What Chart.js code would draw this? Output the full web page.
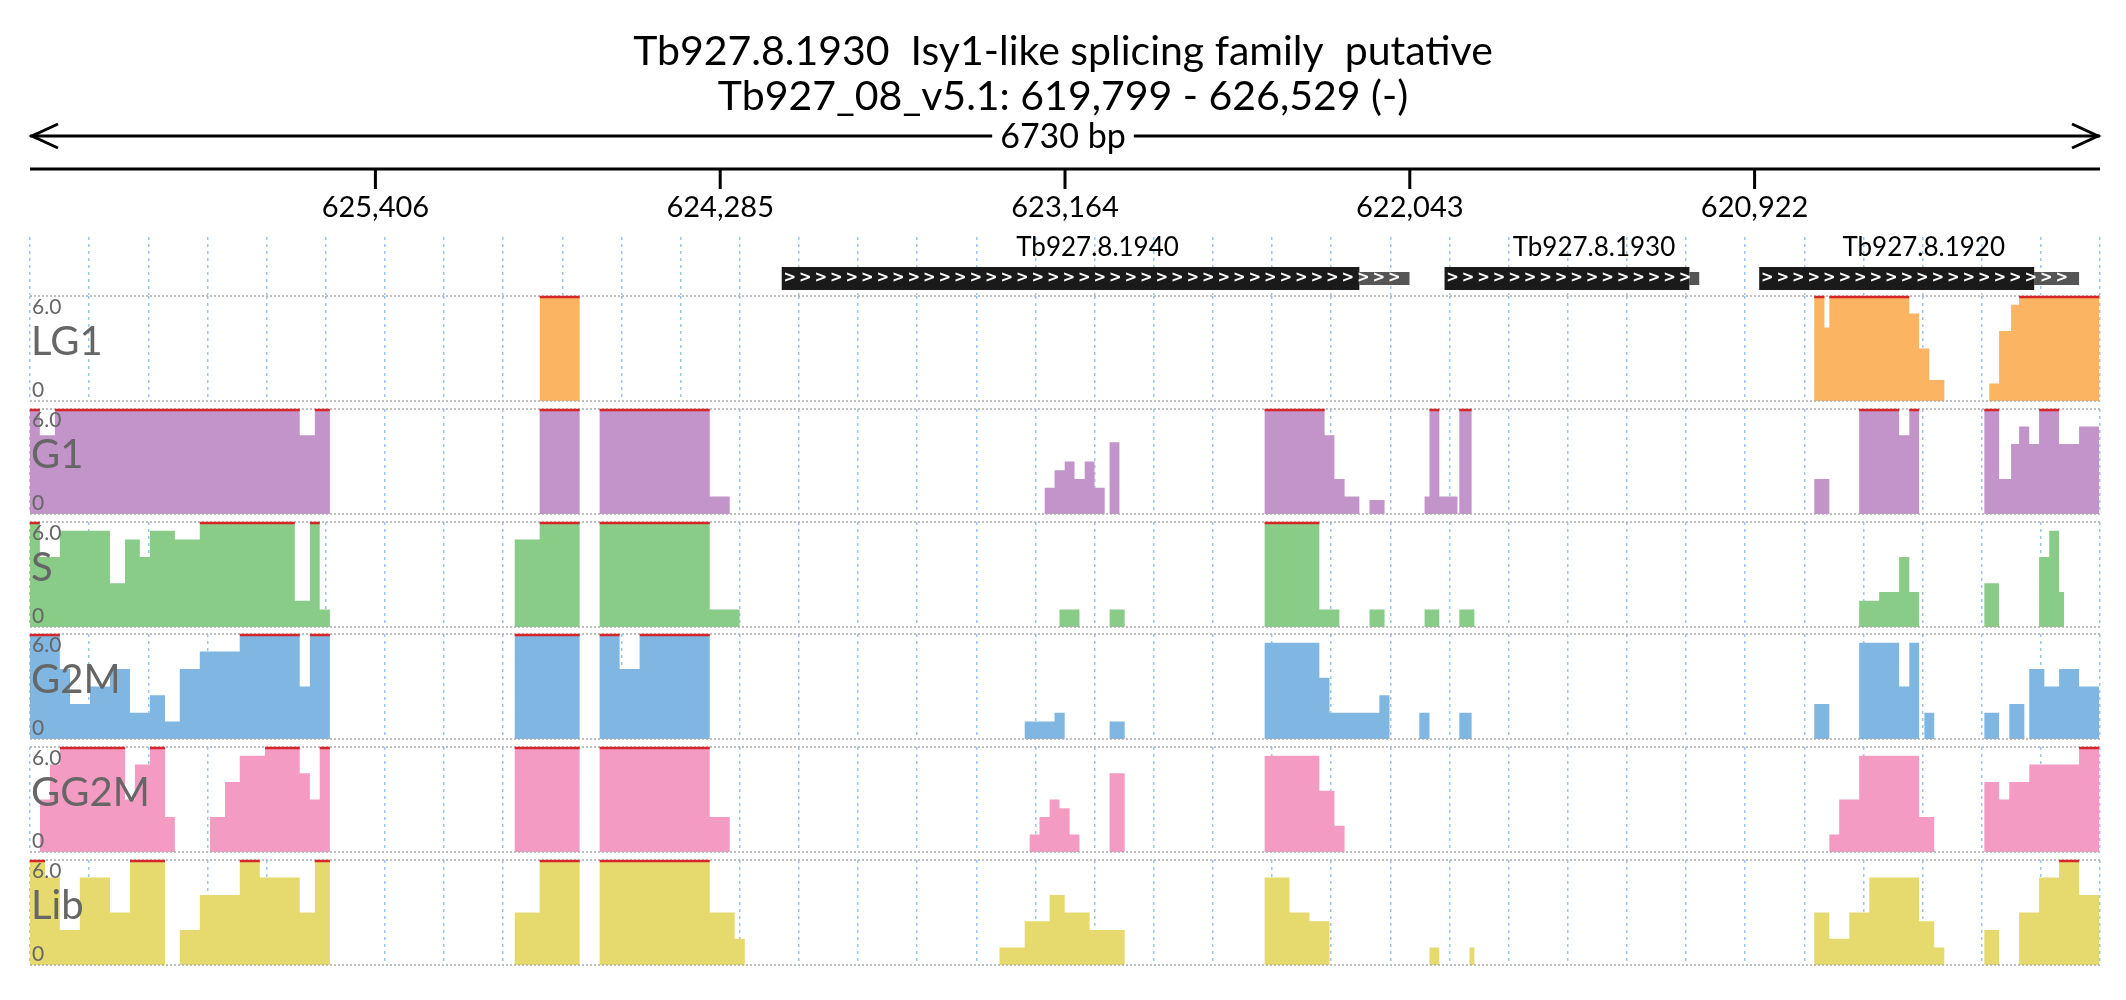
<!DOCTYPE html>
<html><head><meta charset="utf-8">
<script src="https://cdn.jsdelivr.net/npm/chart.js@4.4.1/dist/chart.umd.min.js"></script>
<style>
body{margin:0;background:#fff;width:2126px;height:1000px;position:relative;font-family:Lato,sans-serif}
canvas{position:absolute;left:0}
</style></head><body>
<canvas id="head" width="2126" height="295" style="top:0"></canvas>
<div id="tracks"></div>
<script>
// region: Tb927_08_v5.1 619,799 - 626,529 (minus strand, drawn right to left)
const regionEnd = 626529;
const regionLen = 6730;
const tickOffsets = [1123, 2244, 3365, 4486, 5607];
const gridCount = 35;

// genes: [name, start, end of coding part, end of UTR] as offsets from 626,529
const genes = [
  ['Tb927.8.1940', 2444, 4322, 4485],
  ['Tb927.8.1930', 4599, 5395, 5427],
  ['Tb927.8.1920', 5622, 6516, 6662]
];

const trackNames  = ['LG1', 'G1', 'S', 'G2M', 'GG2M', 'Lib'];
const trackColors = ['#fbb462', '#c394c9', '#88cc88', '#80b6e2', '#f49bc4', '#e6da6e'];

// coverage runs [from, to, value] (offsets in bp, values clipped at 6)
const LG1 = [[1657,1787,6],[5801,5834,6],[5834,5850,4.2],[5850,6110,6],[6110,6142,5],[6142,6175,3],[6175,6224,1.2],[6370,6402,1],[6402,6441,4],[6441,6467,5.5],[6467,6727,6]];
const G1 = [[0,32,6],[32,81,4.5],[81,877,6],[877,926,4.5],[926,975,6],[1657,1787,6],[1852,2210,6],[2210,2275,1],
  [3299,3331,1.5],[3331,3364,2.5],[3364,3396,3],[3396,3429,2],[3429,3461,3],[3461,3494,1.5],[3510,3542,4.1],
  [4014,4209,6],[4209,4241,4.5],[4241,4274,2],[4274,4322,1],[4355,4404,0.8],[4534,4550,1],[4550,4582,6],[4582,4641,1],[4647,4687,6],
  [5801,5850,2],[5947,6077,6],[6077,6110,4.5],[6110,6142,6],[6354,6402,6],[6402,6441,2],[6441,6467,4],[6467,6500,5],[6500,6532,4],[6532,6597,6],[6597,6662,4],[6662,6727,5]];
const S = [[0,32,6],[32,97,4],[97,260,5.5],[260,309,2.5],[309,357,5],[357,390,4],[390,471,5.5],[471,552,5],[552,861,6],[861,910,1.5],[910,942,6],[942,975,1],
  [1576,1657,5],[1657,1787,6],[1852,2210,6],[2210,2307,1],[3347,3412,1],[3510,3559,1],
  [4014,4192,6],[4192,4257,1],[4355,4404,1],[4534,4582,1],[4647,4696,1],
  [5947,6012,1.5],[6012,6077,2],[6077,6110,4],[6110,6142,2],[6354,6402,2.5],[6532,6565,4],[6565,6597,5.5],[6597,6614,2]];
const G2M = [[0,97,6],[97,130,4],[130,195,2],[195,260,3],[260,325,4],[325,390,1.5],[390,439,2.5],[439,487,1],[487,552,4],[552,682,5],[682,877,6],[877,910,3],[910,975,6],
  [1576,1787,6],[1852,1917,6],[1917,1982,4],[1982,2210,6],[3234,3331,1],[3331,3364,1.5],[3510,3559,1],
  [4014,4192,5.5],[4192,4225,3.5],[4225,4387,1.5],[4387,4420,2.5],[4517,4550,1.5],[4647,4687,1.5],
  [5801,5850,2],[5947,6077,5.5],[6077,6110,3],[6110,6142,5.5],[6159,6191,1.5],
  [6354,6402,1.5],[6435,6484,2],[6500,6549,4],[6549,6597,3],[6597,6662,4],[6662,6727,3]];
const GG2M = [[32,65,3],[65,97,5],[97,309,6],[309,341,3],[341,390,5],[390,439,6],[439,471,2],
  [585,634,2],[634,682,4],[682,764,5.5],[764,877,6],[877,910,4.5],[910,942,3],[942,975,6],
  [1576,1787,6],[1852,2210,6],[2210,2275,2],
  [3250,3282,1],[3282,3315,2],[3315,3347,3],[3347,3380,2.5],[3380,3412,1],[3510,3559,4.5],
  [4014,4192,5.5],[4192,4241,3.5],[4241,4274,1.5],
  [5850,5882,1],[5882,5947,3],[5947,6142,5.5],[6142,6191,2],
  [6354,6402,4],[6402,6435,3],[6435,6500,4],[6500,6662,5],[6662,6727,6]];
const Lib = [[0,49,6],[49,97,5],[97,162,2],[162,260,5],[260,325,3],[325,439,6],[487,552,2],[552,682,4],[682,747,6],[747,877,5],[877,926,3],[926,975,6],
  [1576,1657,3],[1657,1787,6],[1852,2210,6],[2210,2291,3],[2291,2324,1.5],
  [3152,3234,1],[3234,3315,2.5],[3315,3364,4],[3364,3445,3],[3445,3510,2],[3510,3559,2],
  [4014,4095,5],[4095,4160,3],[4160,4225,2.5],[4550,4582,1],[4680,4696,1],
  [5801,5850,3],[5850,5915,1.5],[5915,5980,3],[5980,6142,5],[6142,6191,2.5],[6191,6224,1],
  [6354,6402,2],[6467,6532,3],[6532,6597,5],[6597,6662,6],[6662,6727,4]];
const trackRuns = [LG1, G1, S, G2M, GG2M, Lib];

const fmt = v => (regionEnd - v).toLocaleString('en-US');
const gridTicks = () => { const t = []; for (let i = 0; i <= gridCount; i++) t.push({value: i * regionLen / gridCount}); return t; };

function toPoints(runs) {
  const pts = [];
  runs.forEach(([a, b, v]) => { pts.push({x:a,y:0},{x:a,y:v},{x:b,y:v},{x:b,y:0}); });
  return pts;
}

const gridOpts = { color: '#9cc6ec', lineWidth: 1.5, drawTicks: false, tickLength: 0 };
const borderOpts = { display: false, dash: [3, 4] };

const headPlugin = {
  id: 'head',
  afterDraw(chart) {
    const c = chart.ctx, x = chart.scales.x, L = x.left, R = x.right, cx = 1063;
    c.save();
    c.setLineDash([]);
    c.fillStyle = '#000'; c.textAlign = 'center'; c.textBaseline = 'middle';
    c.font = '41px Lato';
    c.fillText('Tb927.8.1930  Isy1-like splicing family  putative', cx, 52);
    c.fillText('Tb927_08_v5.1: 619,799 - 626,529 (-)', cx, 97);
    // span arrow
    c.strokeStyle = '#000'; c.lineWidth = 3;
    c.beginPath(); c.moveTo(L, 136); c.lineTo(R, 136); c.stroke();
    c.beginPath(); c.moveTo(L+28, 124); c.lineTo(L+2, 136); c.lineTo(L+28, 148);
    c.moveTo(R-28, 124); c.lineTo(R-2, 136); c.lineTo(R-28, 148); c.stroke();
    c.font = '34px Lato';
    const tw = c.measureText(regionLen + ' bp').width;
    c.fillStyle = '#fff'; c.fillRect(cx - tw/2 - 8, 116, tw + 16, 40);
    c.fillStyle = '#000'; c.fillText(regionLen + ' bp', cx, 137);
    // axis
    c.beginPath(); c.moveTo(L, 169); c.lineTo(R, 169); c.stroke();
    c.font = '29px Lato';
    tickOffsets.forEach(v => {
      const p = x.getPixelForValue(v);
      c.beginPath(); c.moveTo(p, 169); c.lineTo(p, 189); c.stroke();
      c.fillText(fmt(v), p, 208);
    });
    // genes
    genes.forEach(([name, s, e, u]) => {
      const a = x.getPixelForValue(s), b = x.getPixelForValue(e), d = x.getPixelForValue(u);
      c.fillStyle = '#555'; c.fillRect(b, 272, d - b, 13);
      c.fillStyle = '#1a1a1a'; c.fillRect(a, 267, b - a, 23);
      c.font = 'bold 15px DejaVu Sans'; c.fillStyle = '#fff';
      for (let p = a + 8; p < d - 5; p += 15.5) c.fillText('>', p, 278);
      c.fillStyle = '#000'; c.font = '26px Lato';
      c.fillText(name, (a + b) / 2 + 27, 248);
    });
    c.restore();
  }
};

new Chart(document.getElementById('head'), {
  type: 'line',
  data: { datasets: [] },
  options: {
    responsive: false, animation: false,
    layout: { padding: { left: 30, right: 26, top: 237, bottom: 0 } },
    plugins: { legend: { display: false }, tooltip: { enabled: false } },
    scales: {
      x: { type: 'linear', min: 0, max: regionLen, afterBuildTicks: s => { s.ticks = gridTicks(); },
           ticks: { display: false }, border: borderOpts, grid: gridOpts },
      y: { display: false }
    }
  },
  plugins: [headPlugin]
});

const trackPlugin = {
  id: 'trackLabels',
  afterDraw(chart) {
    const c = chart.ctx, a = chart.chartArea, x = chart.scales.x, y = chart.scales.y;
    const o = chart.options.plugins.trackLabels;
    c.save();
    c.strokeStyle = '#aaa'; c.lineWidth = 1.5; c.setLineDash([2, 2]);
    c.beginPath(); c.moveTo(a.left, a.top); c.lineTo(a.right, a.top);
    c.moveTo(a.left, a.bottom); c.lineTo(a.right, a.bottom); c.stroke();
    c.setLineDash([]);
    // clipped marks
    c.strokeStyle = '#d62728'; c.lineWidth = 2.5;
    o.runs.forEach(([s, e, v]) => {
      if (v >= 6) { c.beginPath(); c.moveTo(x.getPixelForValue(s), y.getPixelForValue(6) + 1); c.lineTo(x.getPixelForValue(e), y.getPixelForValue(6) + 1); c.stroke(); }
    });
    c.textAlign = 'left'; c.textBaseline = 'middle'; c.fillStyle = '#666';
    c.font = '21px Lato';
    c.fillText('6.0', a.left + 2, a.top + 11);
    c.fillText('0', a.left + 2, a.bottom - 11);
    c.font = '40px Lato';
    c.fillText(o.name, a.left + 1, a.top + 46);
    c.restore();
  }
};

const holder = document.getElementById('tracks');
trackNames.forEach((name, i) => {
  const cv = document.createElement('canvas');
  cv.width = 2126; cv.height = 114;
  cv.style.top = (292 + i * 112.8) + 'px';
  holder.appendChild(cv);
  new Chart(cv, {
    type: 'line',
    data: { datasets: [{
      data: toPoints(trackRuns[i]), borderWidth: 0, pointRadius: 0, tension: 0,
      fill: 'origin', backgroundColor: trackColors[i], borderColor: trackColors[i]
    }] },
    options: {
      responsive: false, animation: false,
      layout: { padding: { left: 30, right: 26, top: 4, bottom: 5 } },
      plugins: { legend: { display: false }, tooltip: { enabled: false },
                 trackLabels: { name, runs: trackRuns[i] } },
      scales: {
        x: { type: 'linear', min: 0, max: regionLen, afterBuildTicks: s => { s.ticks = gridTicks(); },
             ticks: { display: false }, border: borderOpts, grid: gridOpts },
        y: { display: false, min: 0, max: 6 }
      }
    },
    plugins: [trackPlugin]
  });
});
</script>
</body></html>
